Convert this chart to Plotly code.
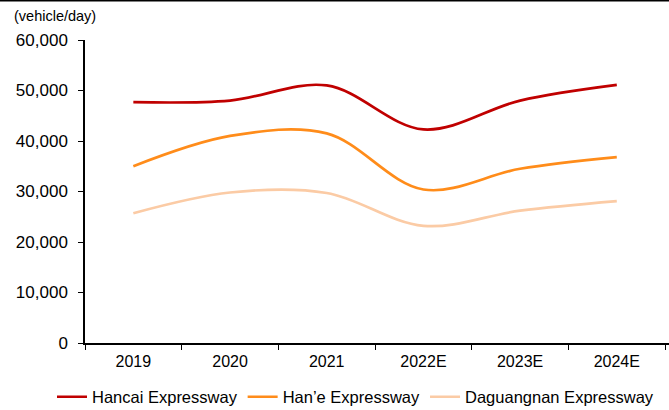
import plotly.graph_objects as go

years = ["2019", "2020", "2021", "2022E", "2023E", "2024E"]
hancai = [47700, 48000, 51000, 42300, 48000, 51100]
hane = [35000, 41000, 41500, 30400, 34500, 36800]
daguangnan = [25700, 29800, 29700, 23200, 26200, 28100]
y_ticks = [0, 10000, 20000, 30000, 40000, 50000, 60000]

series = [
    ("Hancai Expressway", hancai, "#C00000"),
    ("Han\u2019e Expressway", hane, "#FF8C1A"),
    ("Daguangnan Expressway", daguangnan, "#FBCBA5"),
]

fig = go.Figure()
for name, vals, color in series:
    fig.add_trace(go.Scatter(
        x=years, y=vals, name=name, mode="lines",
        line=dict(color=color, width=2.7, shape="spline", smoothing=1.0),
    ))

font = "Liberation Sans, Arial, sans-serif"
PW, PH = 584, 303
fig.update_layout(
    width=669, height=410,
    margin=dict(l=85, r=0, t=40, b=67, autoexpand=False),
    paper_bgcolor="white", plot_bgcolor="white",
    font=dict(family=font, size=16, color="#000000"),
    showlegend=True,
    legend=dict(orientation="h", xref="paper", x=(52 - 85) / PW, xanchor="left",
                yref="paper", y=-(397 - 343) / PH, yanchor="middle",
                font=dict(size=16.5, color="#000000"), itemwidth=30,
                tracegroupgap=0, traceorder="normal"),
    xaxis=dict(
        type="category", range=[-0.5, 5.54], automargin=False,
        showline=True, linecolor="#000000", linewidth=1.5,
        ticks="outside", ticklen=5, tickcolor="#000000", tickwidth=1.2,
        tickson="boundaries", showgrid=False, zeroline=False,
        ticklabelstandoff=3,
        tickfont=dict(size=16, color="#000000"),
    ),
    yaxis=dict(
        range=[0, 60000], tickvals=y_ticks, tickformat=",", automargin=False,
        showline=True, linecolor="#000000", linewidth=1.5,
        ticks="outside", ticklen=5, tickcolor="#000000", tickwidth=1.2,
        showgrid=False, zeroline=False,
        ticklabelstandoff=7,
        tickfont=dict(size=17, color="#000000"),
    ),
    annotations=[dict(
        text="(vehicle/day)", xref="paper", yref="paper",
        x=-73 / PW, y=1 + 24 / PH, xanchor="left", yanchor="middle",
        showarrow=False, font=dict(size=14.5, color="#000000"),
    )],
    shapes=[dict(type="line", xref="paper", yref="paper",
                 x0=-85 / PW, x1=1, y0=1 + 39.5 / PH, y1=1 + 39.5 / PH,
                 line=dict(color="#000000", width=2))],
)

fig.write_html("out.html", config={"displayModeBar": False},
               post_script="document.body.style.margin='0';document.body.style.padding='0';")
